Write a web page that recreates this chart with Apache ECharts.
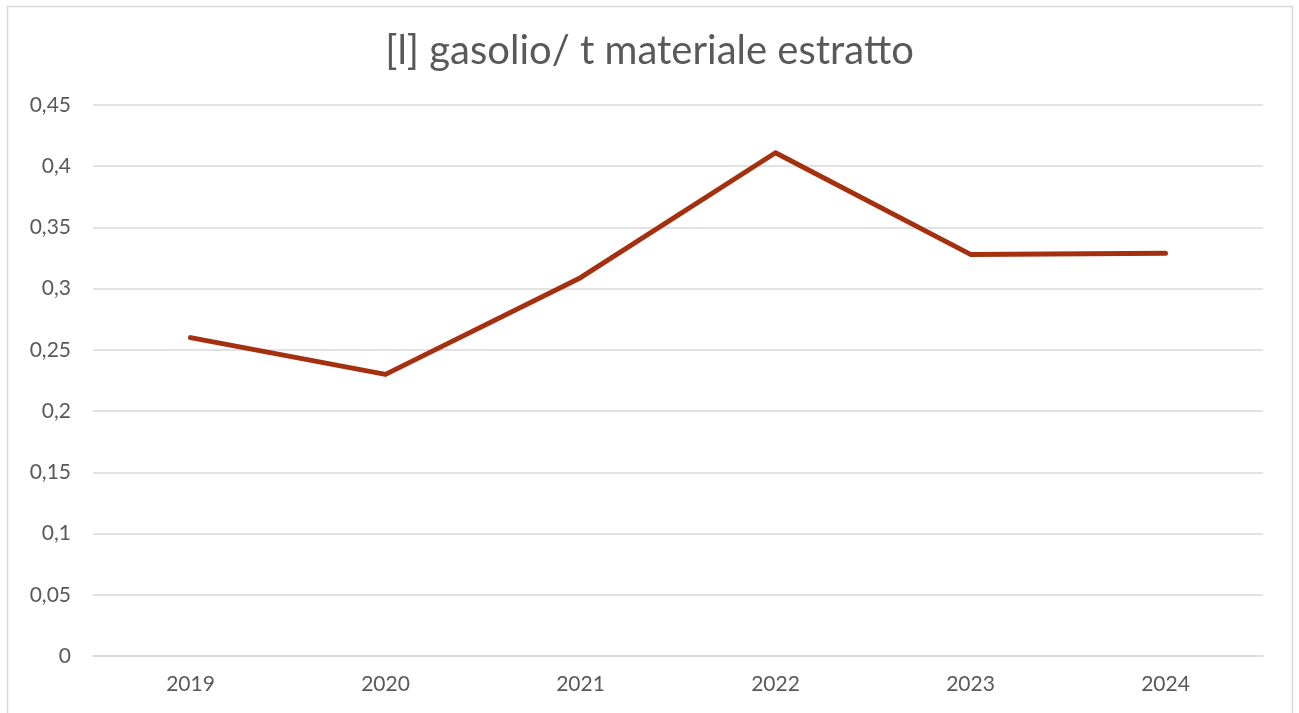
<!DOCTYPE html>
<html>
<head>
<meta charset="utf-8">
<script src="https://cdn.jsdelivr.net/npm/echarts@6/dist/echarts.min.js"></script>
<style>
  html, body { margin: 0; padding: 0; background: #fff; }
  #main { width: 1299px; height: 713px; }
</style>
</head>
<body>
<div id="main"></div>
<script>
var anni = ['2019', '2020', '2021', '2022', '2023', '2024'];
var gasolio = [0.26, 0.23, 0.309, 0.411, 0.328, 0.329];

var myChart = echarts.init(document.getElementById('main'));

var option = {
  animation: false,
  title: {
    text: '[l] gasolio/ t materiale estratto',
    left: 'center',
    top: 26,
    textStyle: {
      fontFamily: 'Lato',
      fontWeight: 'normal',
      fontSize: 40,
      color: '#595959'
    }
  },
  graphic: [
    {
      type: 'rect',
      shape: { x: 7.5, y: 6.5, width: 1285, height: 730 },
      style: { fill: 'none', stroke: '#d9d9d9', lineWidth: 1.5 }
    }
  ],
  grid: {
    left: 93,
    right: 36,
    top: 105,
    bottom: 57
  },
  xAxis: {
    type: 'category',
    data: anni,
    axisLine: { lineStyle: { color: '#d9d9d9', width: 1.5 } },
    axisTick: { show: false },
    axisLabel: {
      color: '#595959',
      fontFamily: 'Lato',
      fontSize: 21,
      margin: 18
    }
  },
  yAxis: {
    type: 'value',
    min: 0,
    max: 0.45,
    interval: 0.05,
    axisLine: { show: false },
    axisTick: { show: false },
    splitLine: { lineStyle: { color: '#d9d9d9', width: 1.5 } },
    axisLabel: {
      color: '#595959',
      fontFamily: 'Lato',
      fontSize: 21,
      margin: 22,
      formatter: function (v) {
        return String(Math.round(v * 100) / 100).replace('.', ',');
      }
    }
  },
  series: [
    {
      name: 'gasolio',
      type: 'line',
      data: gasolio,
      symbol: 'none',
      lineStyle: { color: '#A5300F', width: 5, cap: 'round', join: 'round' }
    }
  ]
};

myChart.setOption(option);
</script>
</body>
</html>
